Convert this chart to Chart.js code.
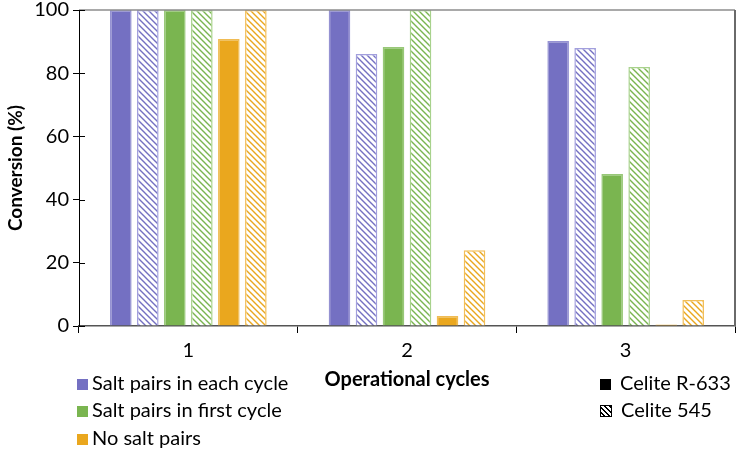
<!DOCTYPE html>
<html>
<head>
<meta charset="utf-8">
<script src="https://cdn.jsdelivr.net/npm/chart.js@4.4.1/dist/chart.umd.min.js"></script>
<style>
    body { margin: 0; background: #fff; }
    #wrap { position: relative; width: 738px; height: 450px; font-family: Lato, sans-serif; }
    .lg { position: absolute; font-size: 20px; color: #000; white-space: nowrap; line-height: 22px; }
    .sw { display: inline-block; width: 11px; height: 11px; margin-right: 4px; vertical-align: 0px; }
    .hatch {
        width: 10px; height: 10px; border: 1px solid #000;
        background: repeating-linear-gradient(45deg, #fff 0 2px, #000 2px 3.5px);
    }
</style>
</head>
<body>
<div id="wrap">
    <canvas id="barChart" width="738" height="450"></canvas>
    <div class="lg" style="left:77px; top:371px;"><span class="sw" style="background:#7470C2"></span>Salt pairs in each cycle</div>
    <div class="lg" style="left:77px; top:398px;"><span class="sw" style="background:#7AB550"></span>Salt pairs in first cycle</div>
    <div class="lg" style="left:77px; top:426px;"><span class="sw" style="background:#EAA71E"></span>No salt pairs</div>
    <div class="lg" style="left:600px; top:371px;"><span class="sw" style="background:#000; margin-right:9px"></span>Celite R-633</div>
    <div class="lg" style="left:600px; top:398px;"><span class="sw hatch" style="margin-right:9px"></span>Celite 545</div>
</div>
<script>
const cycles = ['1', '2', '3'];
const yTicks = [0, 20, 40, 60, 80, 100];

// R-633 = solid bars, 545 = hatched bars
const eachR633 = [100, 100, 90.2];
const each545 = [100, 86.1, 88];
const firstR633 = [100, 88.3, 48.1];
const first545 = [100, 100, 82];
const noneR633 = [90.8, 3.2, 0.5];
const none545 = [100, 24, 8.2];

function hatch(color) {
    const c = document.createElement('canvas');
    c.width = 6;
    c.height = 6;
    const g = c.getContext('2d');
    g.fillStyle = '#fff';
    g.fillRect(0, 0, 6, 6);
    g.strokeStyle = color;
    g.lineWidth = 1.4;
    g.beginPath();
    g.moveTo(-1, -1); g.lineTo(7, 7);
    g.moveTo(-1, 5); g.lineTo(1, 7);
    g.moveTo(5, -1); g.lineTo(7, 1);
    g.stroke();
    return g.createPattern(c, 'repeat');
}

const frame = {
    id: 'frame',
    afterDraw(chart) {
        const a = chart.chartArea;
        const g = chart.ctx;
        g.save();
        g.lineWidth = 1.5;
        g.strokeStyle = '#8c8c8c';
        g.beginPath();
        g.moveTo(a.left, a.top);
        g.lineTo(a.right, a.top);
        g.stroke();
        g.strokeStyle = '#6a6a6a';
        g.lineWidth = 2;
        g.beginPath();
        g.moveTo(a.right, a.top);
        g.lineTo(a.right, a.bottom);
        g.stroke();
        // y ticks cross the axis
        g.strokeStyle = '#000';
        g.lineWidth = 1;
        const y = chart.scales.y;
        yTicks.forEach(v => {
            const p = Math.round(y.getPixelForValue(v)) + 0.5;
            g.beginPath();
            g.moveTo(a.left, p);
            g.lineTo(a.left + 6, p);
            g.stroke();
        });
        g.restore();
    }
};

function ds(data, fill, border) {
    return {
        data: data,
        backgroundColor: fill,
        borderColor: border,
        borderWidth: 1.5,
        barPercentage: 0.8,
        categoryPercentage: 0.741
    };
}

const ctxBar = document.getElementById('barChart').getContext('2d');
const barChart = new Chart(ctxBar, {
    type: 'bar',
    data: {
        labels: cycles,
        datasets: [
            ds(eachR633, '#7470C2', '#9592D2'),
            ds(each545, hatch('#7470C2'), '#A29FDD'),
            ds(firstR633, '#7AB550', '#98C878'),
            ds(first545, hatch('#7AB550'), '#A8D28C'),
            ds(noneR633, '#EAA71E', '#F0BC55'),
            ds(none545, hatch('#EAA71E'), '#F2BE58')
        ]
    },
    options: {
        responsive: false,
        animation: false,
        layout: { padding: { top: 10, right: 3, bottom: 58, left: 0 } },
        plugins: {
            legend: { display: false },
            tooltip: { enabled: false }
        },
        scales: {
            x: {
                afterFit: s => { s.height = 66; s.paddingLeft = 0; s.paddingRight = 0; },
                grid: { drawOnChartArea: false, tickLength: 7, color: '#000', offset: true },
                border: { color: '#555', width: 1.5 },
                ticks: { color: '#000', font: { family: 'Lato', size: 20 }, padding: 6 },
                title: {
                    display: true,
                    text: 'Operational cycles',
                    color: '#000',
                    font: { family: 'Lato', size: 20, weight: 'bold' },
                    padding: { top: 4, bottom: 0 }
                }
            },
            y: {
                min: 0,
                max: 100,
                afterFit: s => { s.width = 79; s.paddingTop = 0; s.paddingBottom = 0; },
                afterBuildTicks: s => { s.ticks = yTicks.map(v => ({ value: v })); },
                grid: { drawOnChartArea: false, tickLength: 6, color: '#000' },
                border: { color: '#000', width: 1 },
                ticks: { color: '#000', font: { family: 'Lato', size: 20 }, padding: 4 },
                title: {
                    display: true,
                    text: 'Conversion (%)',
                    color: '#000',
                    font: { family: 'Lato', size: 19, weight: 'bold' },
                    padding: { bottom: 4 }
                }
            }
        }
    },
    plugins: [frame]
});
</script>
</body>
</html>
